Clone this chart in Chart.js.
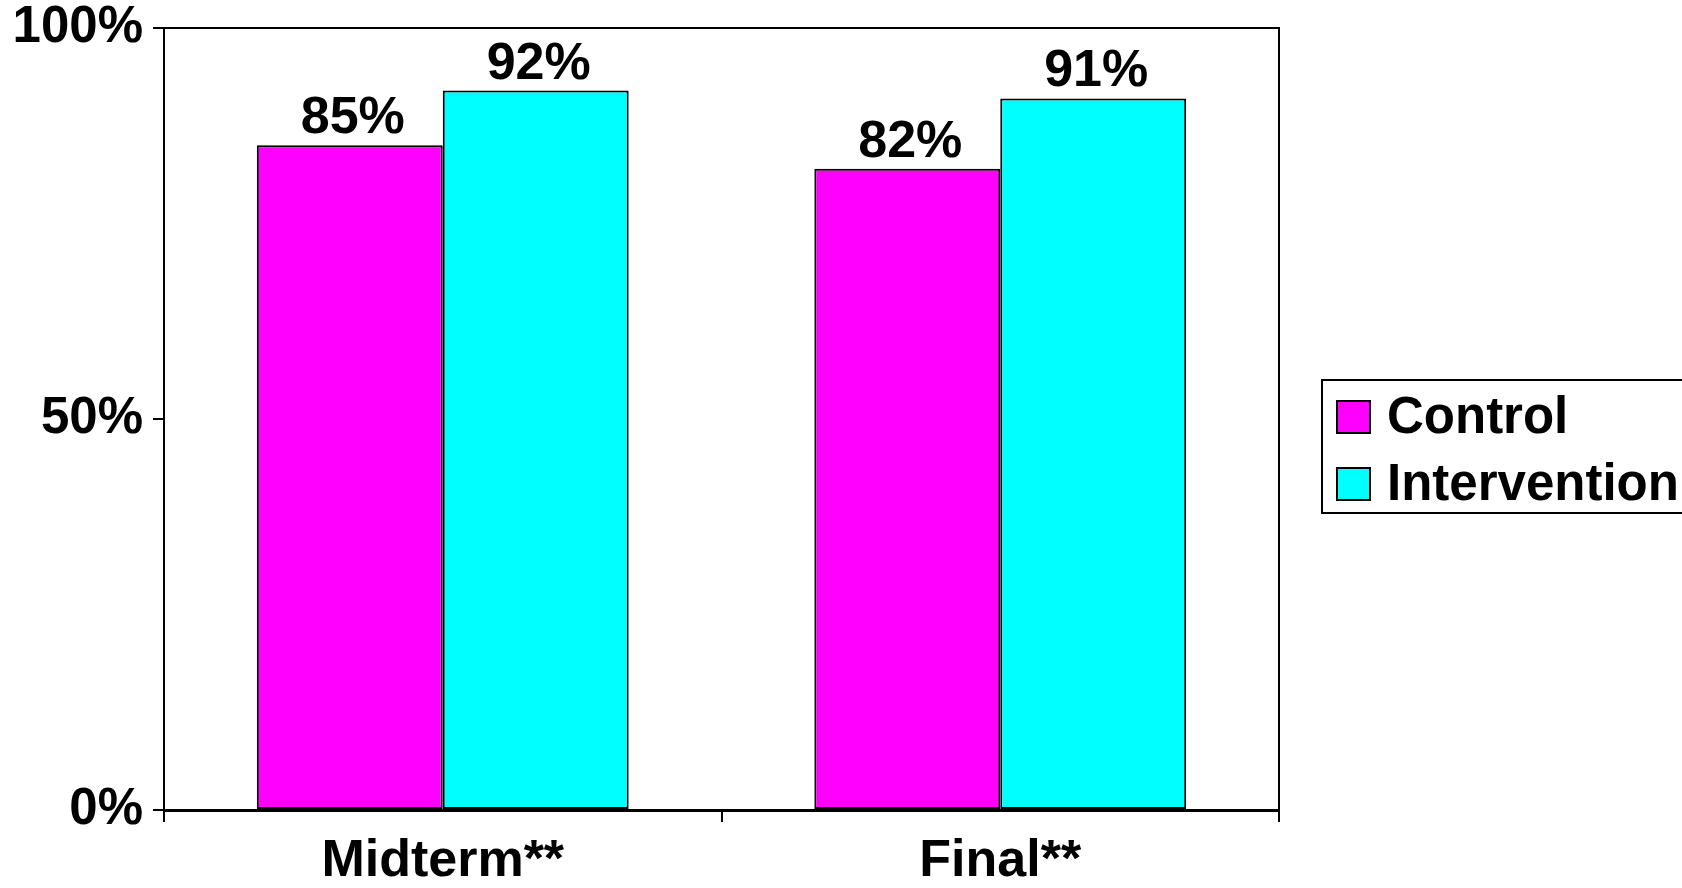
<!DOCTYPE html>
<html>
<head>
<meta charset="utf-8">
<script src="https://cdn.jsdelivr.net/npm/chart.js@4"></script>
<style>
  html, body { margin: 0; padding: 0; background: #fff; }
  canvas { display: block; }
</style>
</head>
<body>
<canvas id="myChart" width="1682" height="888"></canvas>
<script>
// chart data
const categories = ['Midterm**', 'Final**'];
const seriesNames = ['Control', 'Intervention'];
const controlValues = [85, 82];
const interventionValues = [92, 91];
const yTicks = [0, 50, 100];

const FONT = '"Liberation Sans", Arial, sans-serif';

// plot frame (top + right lines)
const framePlugin = {
  id: 'frame',
  afterDatasetsDraw(chart) {
    const a = chart.chartArea;
    const ctx = chart.ctx;
    ctx.save();
    ctx.strokeStyle = '#000';
    ctx.lineWidth = 2;
    ctx.beginPath();
    ctx.moveTo(a.left, a.top);
    ctx.lineTo(a.right, a.top);
    ctx.lineTo(a.right, a.bottom);
    ctx.stroke();
    ctx.restore();
  }
};

// value labels above bars
const valueLabels = {
  id: 'valueLabels',
  afterDatasetsDraw(chart) {
    const ctx = chart.ctx;
    ctx.save();
    ctx.font = 'bold 52px ' + FONT;
    ctx.fillStyle = '#000';
    ctx.textAlign = 'center';
    ctx.textBaseline = 'alphabetic';
    chart.data.datasets.forEach((ds, i) => {
      chart.getDatasetMeta(i).data.forEach((bar, j) => {
        ctx.fillText(ds.data[j] + '%', bar.x + 3, bar.y - 12);
      });
    });
    ctx.restore();
  }
};

// boxed legend on the right
const boxLegend = {
  id: 'boxLegend',
  afterDraw(chart) {
    const ctx = chart.ctx;
    const x = 1322, y = 380, w = 380, h = 133;
    ctx.save();
    ctx.strokeStyle = '#000';
    ctx.lineWidth = 2;
    ctx.strokeRect(x, y, w, h);
    ctx.font = 'bold 51px ' + FONT;
    ctx.textBaseline = 'middle';
    chart.data.datasets.forEach((ds, i) => {
      const cy = 417 + i * 67;
      ctx.fillStyle = ds.backgroundColor;
      ctx.fillRect(1337, cy - 16, 33, 32);
      ctx.strokeRect(1337, cy - 16, 33, 32);
      ctx.fillStyle = '#000';
      ctx.fillText(ds.label, 1387, cy + 2);
    });
    ctx.restore();
  }
};

const ctx = document.getElementById('myChart').getContext('2d');
const myChart = new Chart(ctx, {
  type: 'bar',
  data: {
    labels: categories,
    datasets: [{
      label: seriesNames[0],
      data: controlValues,
      backgroundColor: '#FF00FF',
      borderColor: '#000',
      borderWidth: 2,
      borderSkipped: false
    }, {
      label: seriesNames[1],
      data: interventionValues,
      backgroundColor: '#00FFFF',
      borderColor: '#000',
      borderWidth: 2,
      borderSkipped: false
    }]
  },
  options: {
    responsive: false,
    animation: false,
    layout: {
      padding: { top: 28, right: 403, left: 0, bottom: 0 }
    },
    datasets: {
      bar: { categoryPercentage: 0.667, barPercentage: 1.0 }
    },
    scales: {
      x: {
        afterFit(scale) {
          scale.height = 78;
          scale.paddingLeft = 0;
          scale.paddingRight = 0;
        },
        grid: {
          offset: true,
          drawOnChartArea: false,
          tickLength: 12,
          color: '#000',
          lineWidth: 2
        },
        border: { color: '#000', width: 3 },
        ticks: {
          color: '#000',
          padding: 8,
          font: { family: FONT, size: 52, weight: 'bold' }
        }
      },
      y: {
        min: 0,
        max: 100,
        afterFit(scale) {
          scale.width = 164;
          scale.paddingTop = 0;
          scale.paddingBottom = 0;
        },
        afterBuildTicks(scale) {
          scale.ticks = yTicks.map(v => ({ value: v }));
        },
        grid: {
          drawOnChartArea: false,
          tickLength: 11,
          color: '#000',
          lineWidth: 2
        },
        border: { color: '#000', width: 2 },
        ticks: {
          color: '#000',
          padding: 10,
          font: { family: FONT, size: 51, weight: 'bold', lineHeight: 1 },
          callback: v => v + '%'
        }
      }
    },
    plugins: {
      legend: { display: false },
      tooltip: { enabled: false }
    }
  },
  plugins: [framePlugin, valueLabels, boxLegend]
});
</script>
</body>
</html>
